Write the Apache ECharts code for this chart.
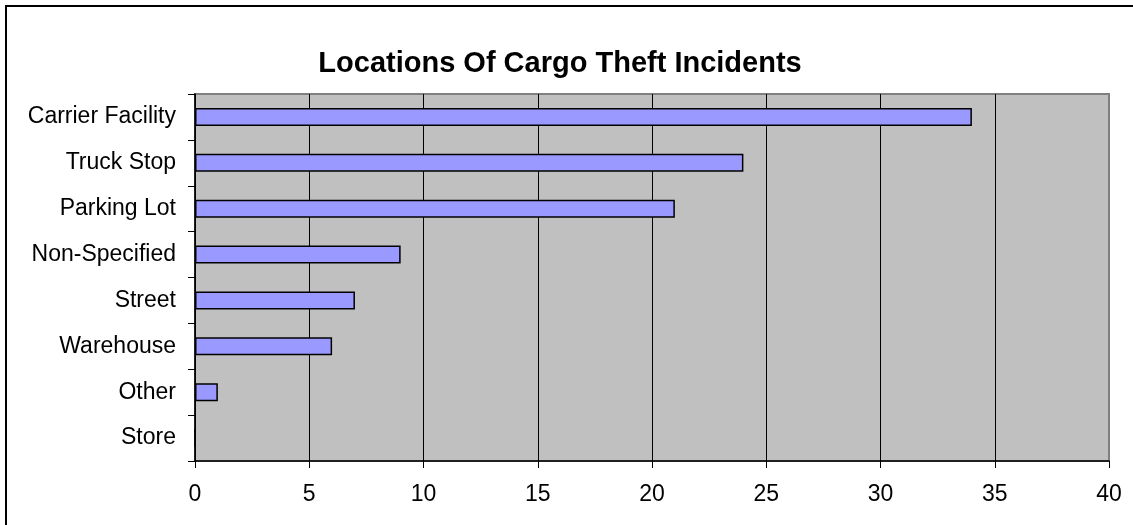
<!DOCTYPE html>
<html>
<head>
<meta charset="utf-8">
<script src="https://cdn.jsdelivr.net/npm/echarts@6/dist/echarts.min.js"></script>
<style>html,body{margin:0;padding:0;background:#fff}#c{width:1133px;height:525px}</style>
</head>
<body>
<div id="c"></div>
<script>
const categories = ['Carrier Facility','Truck Stop','Parking Lot','Non-Specified','Street','Warehouse','Other','Store'];
const values = [34, 24, 21, 9, 7, 6, 1, 0];
const xTicks = [0, 5, 10, 15, 20, 25, 30, 35, 40];

const chart = echarts.init(document.getElementById('c'), null, {renderer: 'canvas'});
const font = 'Arial, "Liberation Sans", sans-serif';
chart.setOption({
  backgroundColor: '#ffffff',
  animation: false,
  title: {
    text: 'Locations Of Cargo Theft Incidents',
    left: 555, top: 44, textAlign: 'center',
    textStyle: {fontFamily: font, fontSize: 29, fontWeight: 'bold', color: '#000'}
  },
  graphic: [{
    type: 'rect', z: 100,
    shape: {x: 6, y: 6, width: 1200, height: 600},
    style: {fill: 'none', stroke: '#000', lineWidth: 2}
  }],
  grid: {
    left: 195, right: 24, top: 94, bottom: 64,
    show: true, backgroundColor: '#C0C0C0', borderColor: '#808080', borderWidth: 2
  },
  xAxis: {
    type: 'value', min: xTicks[0], max: xTicks[xTicks.length - 1], interval: 5,
    axisLine: {show: true, lineStyle: {color: '#000', width: 1.5}},
    axisTick: {show: true, length: 7, lineStyle: {color: '#000'}},
    axisLabel: {fontFamily: font, fontSize: 23, color: '#000', margin: 22},
    splitLine: {show: true, lineStyle: {color: ['#000','#000','#000','#000','#000','#000','#000','#000','#808080'], width: 1}}
  },
  yAxis: {
    type: 'category', data: categories, inverse: true,
    axisLine: {show: true, lineStyle: {color: '#000', width: 1.5}},
    axisTick: {show: true, length: 7, alignWithLabel: false, lineStyle: {color: '#000'}},
    axisLabel: {fontFamily: font, fontSize: 23, color: '#000', margin: 19, padding: [4, 0, 0, 0]},
    splitLine: {show: false}
  },
  series: [{
    type: 'bar', data: values, barWidth: 18,
    itemStyle: {color: '#9999FF', borderColor: '#000', borderWidth: 1.5}
  }]
});
</script>
</body>
</html>
